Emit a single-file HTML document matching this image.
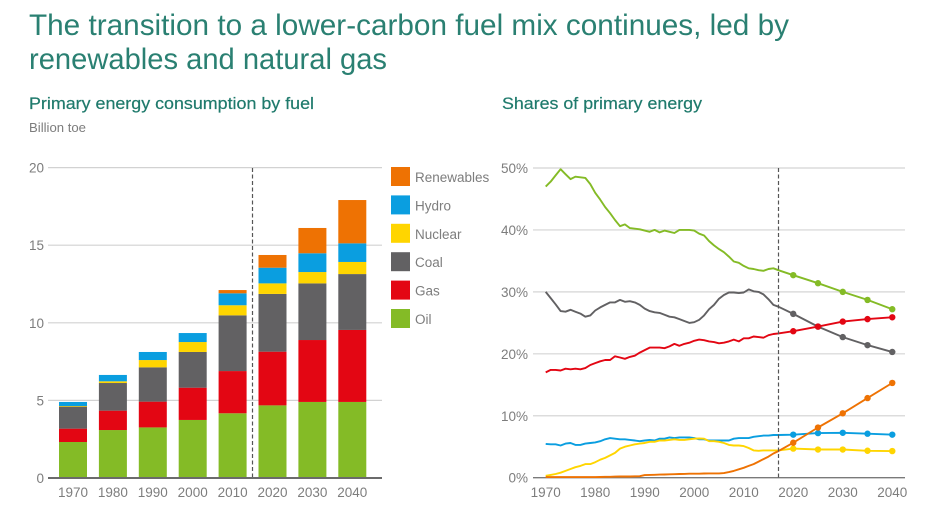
<!DOCTYPE html>
<html lang="en">
<head>
<meta charset="utf-8">
<title>Lower-carbon fuel mix</title>
<style>
html,body{margin:0;padding:0;background:#fff;width:928px;height:521px;overflow:hidden}
svg{display:block}
text{font-family:"Liberation Sans",sans-serif}
.title{font-size:30px;fill:#2a8072}
.sub{font-size:16.5px;fill:#1f7a6c;stroke:#1f7a6c;stroke-width:.2px}
.tick{font-size:13.5px;fill:#7d7d7d}
.leg{font-size:13.5px;fill:#7d7d7d}
</style>
</head>
<body>
<svg id="page" xmlns="http://www.w3.org/2000/svg" width="928" height="521" viewBox="0 0 928 521">
  <text class="title" x="29" y="35" textLength="760" lengthAdjust="spacingAndGlyphs">The transition to a lower-carbon fuel mix continues, led by</text>
  <text class="title" x="29" y="69" textLength="358" lengthAdjust="spacingAndGlyphs">renewables and natural gas</text>
  <text class="sub" x="29" y="109" textLength="285" lengthAdjust="spacingAndGlyphs">Primary energy consumption by fuel</text>
  <text x="29" y="132" font-size="12.5" fill="#7d7d7d" textLength="57" lengthAdjust="spacingAndGlyphs">Billion toe</text>
  <text class="sub" x="502" y="109" textLength="200" lengthAdjust="spacingAndGlyphs">Shares of primary energy</text>
  <g id="stack-chart"></g>
  <g id="legend"></g>
  <g id="share-chart"></g>
</svg>
<script>
// ---------- Left chart data (billion toe per fuel, stacked bottom to top) ----------
const decades = [1970, 1980, 1990, 2000, 2010, 2020, 2030, 2040];
const stackTicks = [0, 5, 10, 15, 20];
const barOil = [2.32, 3.09, 3.26, 3.74, 4.17, 4.68, 4.90, 4.90];
const barGas = [0.86, 1.25, 1.66, 2.08, 2.72, 3.46, 3.99, 4.64];
const barCoal = [1.42, 1.78, 2.21, 2.30, 3.59, 3.72, 3.65, 3.60];
const barNuclear = [0.04, 0.11, 0.47, 0.64, 0.65, 0.68, 0.73, 0.78];
const barHydro = [0.26, 0.41, 0.52, 0.58, 0.77, 1.01, 1.21, 1.20];
const barRenewables = [0, 0, 0, 0, 0.21, 0.82, 1.63, 2.79];

// ---------- Right chart data (% share) ----------
const historyYears = [1970,1971,1972,1973,1974,1975,1976,1977,1978,1979,1980,1981,1982,1983,1984,1985,1986,1987,1988,1989,1990,1991,1992,1993,1994,1995,1996,1997,1998,1999,2000,2001,2002,2003,2004,2005,2006,2007,2008,2009,2010,2011,2012,2013,2014,2015,2016,2017];
const projectionYears = [2020, 2025, 2030, 2035, 2040];
const shareXTicks = [1970, 1980, 1990, 2000, 2010, 2020, 2030, 2040];
const shareYTicks = [0, 10, 20, 30, 40, 50];
const oilHistory = [47.0,47.8,48.8,49.8,49.0,48.2,48.6,48.5,48.4,47.4,46.0,44.9,43.7,42.7,41.6,40.6,40.9,40.3,40.2,40.1,39.9,39.7,40.0,39.6,39.9,39.7,39.5,40.0,40.0,40.0,39.9,39.4,39.1,38.2,37.5,36.9,36.4,35.7,34.9,34.7,34.2,33.8,33.7,33.5,33.4,33.7,33.8,33.5];
const oilProjection = [32.7, 31.4, 30.0, 28.7, 27.2];
const coalHistory = [30.0,29.0,28.0,26.9,26.8,27.1,26.8,26.5,26.0,26.2,27.0,27.5,27.9,28.3,28.3,28.7,28.4,28.5,28.3,27.9,27.3,26.9,26.7,26.6,26.3,26.0,25.9,25.6,25.3,25.0,25.1,25.5,26.2,27.2,27.9,28.9,29.5,29.9,29.9,29.8,29.9,30.4,30.1,30.0,29.6,28.8,27.9,27.6];
const coalProjection = [26.45, 24.4, 22.7, 21.4, 20.3];
const gasHistory = [17.0,17.4,17.4,17.3,17.6,17.5,17.6,17.5,17.7,18.2,18.5,18.8,19.0,19.0,19.6,19.4,19.2,19.5,19.7,20.2,20.6,21.0,21.0,21.0,20.9,21.2,21.6,21.3,21.6,21.8,22.1,22.3,22.2,22.0,21.9,21.7,21.8,22.0,22.3,22.0,22.5,22.5,22.8,22.7,22.6,23.0,23.2,23.3];
const gasProjection = [23.65, 24.4, 25.2, 25.6, 25.9];
const hydroHistory = [5.45,5.4,5.4,5.2,5.5,5.6,5.3,5.3,5.5,5.6,5.7,5.9,6.2,6.4,6.3,6.2,6.2,6.1,6.0,5.9,6.0,6.1,6.0,6.3,6.3,6.5,6.4,6.5,6.5,6.5,6.4,6.2,6.2,6.0,6.0,6.0,6.0,6.0,6.3,6.4,6.4,6.4,6.6,6.7,6.8,6.8,6.9,6.9];
const hydroProjection = [6.95, 7.2, 7.25, 7.1, 6.95];
const nuclearHistory = [0.3,0.45,0.6,0.8,1.1,1.4,1.7,1.9,2.2,2.2,2.5,2.9,3.2,3.6,4.0,4.7,5.0,5.2,5.4,5.5,5.6,5.8,5.8,6.0,6.0,6.1,6.2,6.1,6.1,6.2,6.3,6.35,6.3,5.9,5.9,5.8,5.6,5.3,5.2,5.2,5.1,4.8,4.4,4.35,4.4,4.4,4.4,4.4];
const nuclearProjection = [4.7, 4.55, 4.55, 4.35, 4.3];
const renewablesHistory = [0.1,0.1,0.1,0.1,0.1,0.1,0.1,0.1,0.1,0.1,0.1,0.12,0.15,0.15,0.18,0.2,0.2,0.2,0.22,0.25,0.42,0.45,0.47,0.5,0.52,0.55,0.57,0.6,0.62,0.64,0.65,0.65,0.68,0.7,0.7,0.7,0.75,0.9,1.1,1.35,1.6,1.9,2.2,2.6,3.0,3.4,3.9,4.3];
const renewablesProjection = [5.65, 8.1, 10.4, 12.85, 15.3];

const legendLabels = ["Renewables", "Hydro", "Nuclear", "Coal", "Gas", "Oil"];

const COLORS = {Oil:"#84bb26", Gas:"#e30613", Coal:"#626163", Nuclear:"#ffd500", Hydro:"#0a9ee0", Renewables:"#ee7203"};
const SVGNS = "http://www.w3.org/2000/svg";

function make(parent, tag, attrs, text) {
  const el = document.createElementNS(SVGNS, tag);
  for (const k in attrs) el.setAttribute(k, attrs[k]);
  if (text !== undefined) el.textContent = text;
  parent.appendChild(el);
  return el;
}

// ---------- Left chart ----------
const stackG = document.getElementById("stack-chart");
const stackY = v => 478 - v * 15.52;
const stackX = i => 59 + i * 39.9;
const BAR_W = 28;

stackTicks.forEach(t => {
  const line = make(stackG, "line", {x1:48, x2:382, y1:stackY(t), y2:stackY(t), stroke:"#d2d2d2", "stroke-width":1.2});
  
  
  const label = make(stackG, "text", {class:"tick", x:44, y:stackY(t)+5, "text-anchor":"end"}, String(t));
  
  
});

const stackSeries = [
  ["Oil", barOil], ["Gas", barGas], ["Coal", barCoal],
  ["Nuclear", barNuclear], ["Hydro", barHydro], ["Renewables", barRenewables]
];
decades.forEach((year, i) => {
  let base = 0;
  stackSeries.forEach(([name, values]) => {
    const v = values[i];
    if (v > 0) {
      const rect = make(stackG, "rect", {x:stackX(i), y:stackY(base + v), width:BAR_W, height:stackY(base) - stackY(base + v), fill:COLORS[name]});
      
      
    }
    base += v;
  });
  const label = make(stackG, "text", {class:"tick", x:stackX(i) + BAR_W/2, y:497, "text-anchor":"middle"}, String(year));
  
  
});

const leftAxis = make(stackG, "line", {x1:48, x2:382, y1:478, y2:478, stroke:"#6b6b6b", "stroke-width":2});


const leftDash = make(stackG, "line", {x1:252.5, x2:252.5, y1:168, y2:477, stroke:"#555", "stroke-width":1.2, "stroke-dasharray":"4 2.5"});



// ---------- Legend ----------
const legendG = document.getElementById("legend");
const legendTops = i => 167 + i * 28.4;
legendLabels.forEach((name, i) => {
  const sw = make(legendG, "rect", {x:391, y:legendTops(i), width:19, height:19, fill:COLORS[name]});
  
  
  const tx = make(legendG, "text", {class:"leg", x:415, y:legendTops(i) + 15}, name);
  
  
});

// ---------- Right chart ----------
const shareG = document.getElementById("share-chart");
const shareX = yr => 545.7 + (yr - 1970) * 4.951;
const shareY = v => 477.7 - v * 6.194;

shareYTicks.forEach(t => {
  const line = make(shareG, "line", {x1:533, x2:905, y1:shareY(t), y2:shareY(t), stroke: t === 0 ? "#7a7a7a" : "#dcdcdc", "stroke-width":1.4});
  
  
  const label = make(shareG, "text", {class:"tick", x:528, y:shareY(t)+5, "text-anchor":"end"}, t + "%");
  
  
});
shareXTicks.forEach(yr => {
  const label = make(shareG, "text", {class:"tick", x:shareX(yr), y:497, "text-anchor":"middle"}, String(yr));
  
  
});

const lineSeries = [
  ["Oil", oilHistory, oilProjection],
  ["Coal", coalHistory, coalProjection],
  ["Gas", gasHistory, gasProjection],
  ["Hydro", hydroHistory, hydroProjection],
  ["Nuclear", nuclearHistory, nuclearProjection],
  ["Renewables", renewablesHistory, renewablesProjection]
];
lineSeries.forEach(([name, hist, proj]) => {
  const pts = historyYears.map((yr, i) => shareX(yr).toFixed(1) + "," + shareY(hist[i]).toFixed(1))
    .concat(projectionYears.map((yr, i) => shareX(yr).toFixed(1) + "," + shareY(proj[i]).toFixed(1)));
  const line = make(shareG, "polyline", {points:pts.join(" "), fill:"none", stroke:COLORS[name], "stroke-width":1.9, "stroke-linejoin":"round"});
  
  
  projectionYears.forEach((yr, i) => {
    const dot = make(shareG, "circle", {cx:shareX(yr), cy:shareY(proj[i]), r:3.2, fill:COLORS[name]});
    
    
  });
});

const rightDash = make(shareG, "line", {x1:778.5, x2:778.5, y1:168, y2:478, stroke:"#555", "stroke-width":1.2, "stroke-dasharray":"4 2.5"});


</script>
</body>
</html>
